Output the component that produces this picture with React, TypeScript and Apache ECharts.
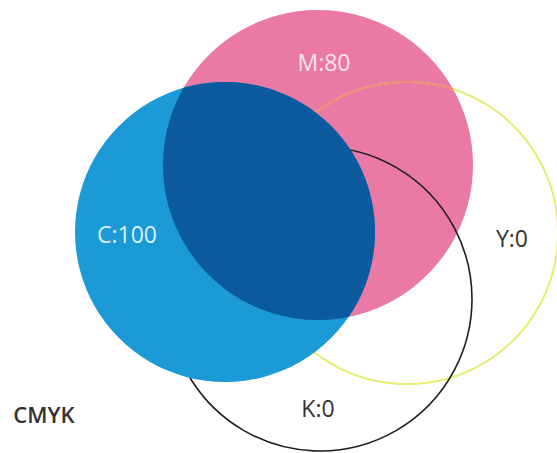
import React, { useEffect, useRef } from "react";
import * as echarts from "echarts";

// Ink channels and their values
const inks = ["C", "M", "Y", "K"];
const inkValues = [100, 80, 0, 0];
// Circle geometry in chart units (x right, y down)
const centerX = [225, 318, 407, 320];
const centerY = [232, 165, 233, 299];
const radii = [150, 155, 151, 152];
// Label anchors in chart units
const labelX = [127, 324, 512, 318];
const labelY = [234, 62, 238, 408];
const title = "CMYK";

const W = 557;
const H = 453;

function lensAngles(i: number, j: number) {
  const dx = centerX[j] - centerX[i];
  const dy = centerY[j] - centerY[i];
  const d = Math.sqrt(dx * dx + dy * dy);
  const r1 = radii[i];
  const r2 = radii[j];
  const a = Math.acos((d * d + r1 * r1 - r2 * r2) / (2 * d * r1));
  const th = Math.atan2(dy, dx);
  return { th, a };
}

function arcPoints(i: number, from: number, to: number, n = 120) {
  const pts: number[][] = [];
  for (let k = 0; k <= n; k++) {
    const t = from + ((to - from) * k) / n;
    pts.push([centerX[i] + radii[i] * Math.cos(t), centerY[i] + radii[i] * Math.sin(t)]);
  }
  return pts;
}

export default function App() {
  const ref = useRef<HTMLDivElement>(null);
  useEffect(() => {
    if (!ref.current) return;
    const chart = echarts.init(ref.current, undefined, { renderer: "svg" });
    const fills = ["#1b9ad6", "#ea79a5"];
    const renderItem = (params: any, api: any) => {
      const toPx = (p: number[]) => api.coord(p);
      const rPx = (i: number) => api.size([radii[i], 0])[0];
      const circle = (i: number, style: any) => {
        const c = toPx([centerX[i], centerY[i]]);
        return { type: "circle", shape: { cx: c[0], cy: c[1], r: rPx(i) }, style };
      };
      // lens C ∩ M
      const l1 = lensAngles(0, 1);
      const l2 = lensAngles(1, 0);
      const lens = arcPoints(0, l1.th - l1.a, l1.th + l1.a)
        .concat(arcPoints(1, l2.th - l2.a, l2.th + l2.a))
        .map(toPx);
      // yellow arc inside magenta
      const ly = lensAngles(2, 1);
      const yArc = arcPoints(2, ly.th - ly.a, ly.th + ly.a).map(toPx);
      const children: any[] = [
        circle(1, { fill: fills[1], stroke: null }),
        circle(2, { fill: "none", stroke: "#e7ec72", lineWidth: 2 }),
        { type: "polyline", shape: { points: yArc }, style: { fill: "none", stroke: "#f08a78", lineWidth: 2 } },
        circle(3, { fill: "none", stroke: "#1e1e1e", lineWidth: 1.6 }),
        circle(0, { fill: fills[0], stroke: null }),
        { type: "polygon", shape: { points: lens }, style: { fill: "#0b5a9d", stroke: null } },
      ];
      const labelColors = ["#d9f0fb", "#f8e2ec", "#333333", "#333333"];
      inks.forEach((ink, i) => {
        const p = toPx([labelX[i], labelY[i]]);
        children.push({
          type: "text",
          x: p[0],
          y: p[1],
          style: {
            text: ink + ":" + inkValues[i],
            fill: labelColors[i],
            font: "23px 'Open Sans', sans-serif",
            align: "center",
            verticalAlign: "middle",
          },
        });
      });
      const tp = toPx([44, 414]);
      children.push({
        type: "text",
        x: tp[0],
        y: tp[1],
        style: {
          text: title,
          fill: "#333333",
          font: "600 22px 'Open Sans', sans-serif",
          align: "center",
          verticalAlign: "middle",
        },
      });
      return { type: "group", children };
    };
    chart.setOption({
      animation: false,
      backgroundColor: "#ffffff",
      grid: { left: 0, right: 0, top: 0, bottom: 0 },
      xAxis: { type: "value", min: 0, max: W, show: false },
      yAxis: { type: "value", min: 0, max: H, inverse: true, show: false },
      series: [
        {
          type: "custom",
          silent: true,
          clip: false,
          data: [[0, 0]],
          renderItem,
        },
      ],
    });
    return () => chart.dispose();
  }, []);
  return (
    <div
      ref={ref}
      style={{ position: "fixed", left: 0, top: 0, width: W, height: H }}
    />
  );
}
